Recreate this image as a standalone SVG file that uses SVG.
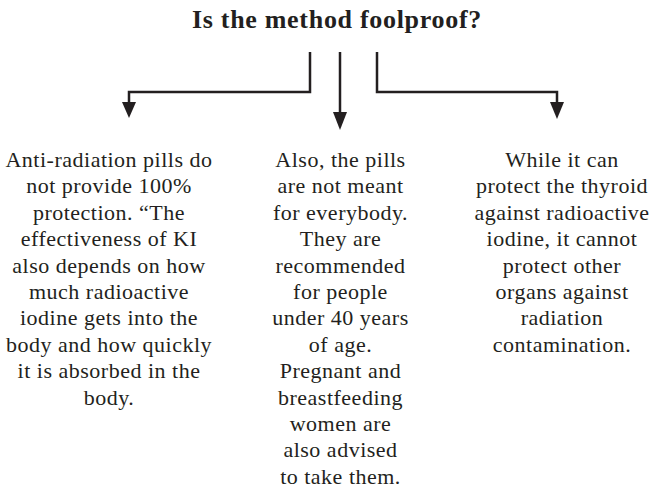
<svg xmlns="http://www.w3.org/2000/svg" width="657" height="492" viewBox="0 0 657 492">
<style>
.t{font-family:"Liberation Serif","Times New Roman",serif;font-size:22px;letter-spacing:0.5px;fill:#231f20;text-anchor:middle}
.h{font-family:"Liberation Serif","Times New Roman",serif;font-size:26px;letter-spacing:0.7px;font-weight:bold;fill:#231f20;text-anchor:middle}
.c{fill:none;stroke:#231f20;stroke-width:2.5}
.a{fill:#231f20}
</style>
<g id="title"><text class="h" x="337" y="28">Is the method foolproof?</text></g>
<g id="connectors">
<path class="c" d="M310,52 V92 H129 V103"/>
<polygon class="a" points="122,102 136,102 129,118"/>
<path class="c" d="M340,52 V114"/>
<polygon class="a" points="333,112 347,112 340,130"/>
<path class="c" d="M377,52 V92 H557 V103"/>
<polygon class="a" points="550,102 564,102 557,119"/>
</g>
<g id="node-left">
<text class="t" x="109" y="167">Anti-radiation pills do</text>
<text class="t" x="109" y="193.4">not provide 100%</text>
<text class="t" x="109" y="219.8">protection. “The</text>
<text class="t" x="109" y="246.2">effectiveness of KI</text>
<text class="t" x="109" y="272.6">also depends on how</text>
<text class="t" x="109" y="299">much radioactive</text>
<text class="t" x="109" y="325.4">iodine gets into the</text>
<text class="t" x="109" y="351.8">body and how quickly</text>
<text class="t" x="109" y="378.2">it is absorbed in the</text>
<text class="t" x="109" y="404.6">body.</text>
</g>
<g id="node-middle">
<text class="t" x="340.5" y="167">Also, the pills</text>
<text class="t" x="340.5" y="193.4">are not meant</text>
<text class="t" x="340.5" y="219.8">for everybody.</text>
<text class="t" x="340.5" y="246.2">They are</text>
<text class="t" x="340.5" y="272.6">recommended</text>
<text class="t" x="340.5" y="299">for people</text>
<text class="t" x="340.5" y="325.4">under 40 years</text>
<text class="t" x="340.5" y="351.8">of age.</text>
<text class="t" x="340.5" y="378.2">Pregnant and</text>
<text class="t" x="340.5" y="404.6">breastfeeding</text>
<text class="t" x="340.5" y="431">women are</text>
<text class="t" x="340.5" y="457.4">also advised</text>
<text class="t" x="340.5" y="483.8">to take them.</text>
</g>
<g id="node-right">
<text class="t" x="562" y="167">While it can</text>
<text class="t" x="562" y="193.4">protect the thyroid</text>
<text class="t" x="562" y="219.8">against radioactive</text>
<text class="t" x="562" y="246.2">iodine, it cannot</text>
<text class="t" x="562" y="272.6">protect other</text>
<text class="t" x="562" y="299">organs against</text>
<text class="t" x="562" y="325.4">radiation</text>
<text class="t" x="562" y="351.8">contamination.</text>
</g>
</svg>
